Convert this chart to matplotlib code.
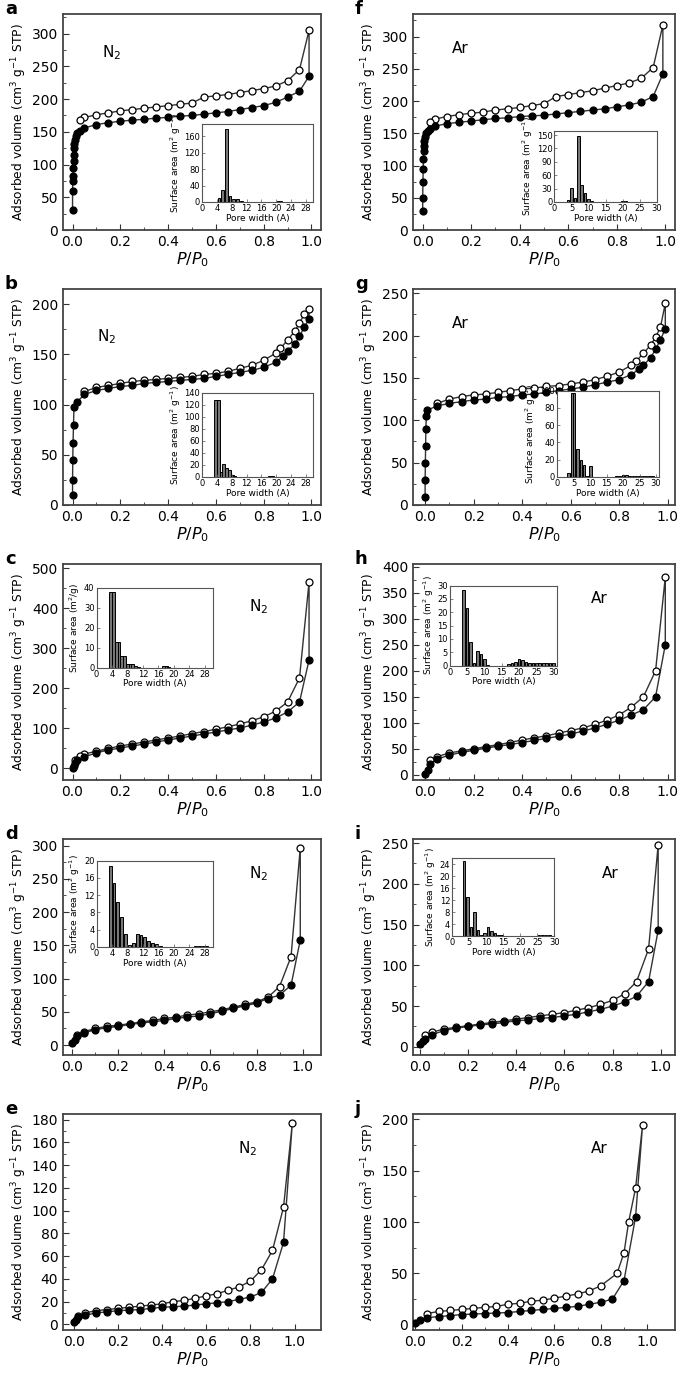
import numpy as np
import matplotlib.pyplot as plt

# ---------------- isotherm data (P/P0, adsorbed volume) ----------------
a_ads_x = [0.0, 0.0, 0.001, 0.002, 0.003, 0.004, 0.005, 0.006, 0.008, 0.01, 0.015, 0.02, 0.03, 0.05,
           0.1, 0.15, 0.2, 0.25, 0.3, 0.35, 0.4, 0.45, 0.5, 0.55, 0.6, 0.65, 0.7, 0.75, 0.8, 0.85, 0.9, 0.95, 0.99]
a_ads_y = [30, 60, 75, 82, 95, 105, 115, 125, 132, 138, 143, 148, 152, 156,
           161, 164, 166, 168, 169, 171, 172, 174, 175, 177, 179, 181, 184, 187, 190, 195, 203, 212, 235]
a_des_x = [0.99, 0.95, 0.9, 0.85, 0.8, 0.75, 0.7, 0.65, 0.6, 0.55, 0.5, 0.45, 0.4, 0.35, 0.3, 0.25,
           0.2, 0.15, 0.1, 0.05, 0.03]
a_des_y = [305, 245, 228, 220, 216, 213, 210, 207, 205, 203, 194, 192, 190, 188, 186, 184,
           182, 179, 176, 172, 168]

f_ads_x = [0.0, 0.0, 0.001, 0.002, 0.003, 0.004, 0.005, 0.007, 0.01, 0.015, 0.02, 0.03, 0.05,
           0.1, 0.15, 0.2, 0.25, 0.3, 0.35, 0.4, 0.45, 0.5, 0.55, 0.6, 0.65, 0.7, 0.75, 0.8, 0.85, 0.9, 0.95, 0.99]
f_ads_y = [30, 50, 75, 95, 110, 122, 130, 138, 145, 150, 153, 157, 161,
           165, 167, 169, 171, 173, 174, 176, 177, 178, 180, 182, 184, 186, 188, 191, 194, 198, 207, 242]
f_des_x = [0.99, 0.95, 0.9, 0.85, 0.8, 0.75, 0.7, 0.65, 0.6, 0.55, 0.5, 0.45, 0.4, 0.35, 0.3, 0.25,
           0.2, 0.15, 0.1, 0.05, 0.03]
f_des_y = [318, 252, 235, 228, 224, 220, 216, 213, 210, 207, 196, 193, 190, 188, 186, 183,
           181, 179, 176, 172, 168]

b_ads_x = [0.0, 0.0, 0.001, 0.002, 0.004, 0.006, 0.02, 0.05, 0.1, 0.15, 0.2, 0.25, 0.3, 0.35, 0.4,
           0.45, 0.5, 0.55, 0.6, 0.65, 0.7, 0.75, 0.8, 0.85, 0.88, 0.9, 0.93, 0.95, 0.97, 0.99]
b_ads_y = [10, 25, 45, 62, 80, 98, 103, 110, 114, 116, 118, 119, 121, 122, 123,
           124, 125, 126, 128, 130, 132, 134, 137, 142, 148, 153, 160, 168, 177, 185]
b_des_x = [0.99, 0.97, 0.95, 0.93, 0.9, 0.87, 0.85, 0.8, 0.75, 0.7, 0.65, 0.6, 0.55, 0.5, 0.45,
           0.4, 0.35, 0.3, 0.25, 0.2, 0.15, 0.1, 0.05]
b_des_y = [195, 190, 181, 173, 164, 156, 151, 144, 139, 136, 133, 131, 130, 128, 127,
           126, 125, 124, 123, 121, 119, 117, 113]

g_ads_x = [0.0, 0.0, 0.001, 0.002, 0.003, 0.005, 0.008, 0.05, 0.1, 0.15, 0.2, 0.25, 0.3, 0.35, 0.4,
           0.45, 0.5, 0.55, 0.6, 0.65, 0.7, 0.75, 0.8, 0.85, 0.88, 0.9, 0.93, 0.95, 0.97, 0.99]
g_ads_y = [10, 30, 50, 70, 90, 105, 112, 117, 120, 122, 124, 125, 127, 128, 130,
           131, 133, 135, 137, 139, 142, 145, 148, 154, 160, 165, 174, 184, 195, 208]
g_des_x = [0.99, 0.97, 0.95, 0.93, 0.9, 0.87, 0.85, 0.8, 0.75, 0.7, 0.65, 0.6, 0.55, 0.5, 0.45,
           0.4, 0.35, 0.3, 0.25, 0.2, 0.15, 0.1, 0.05]
g_des_y = [238, 210, 198, 189, 179, 170, 165, 157, 152, 148, 145, 143, 141, 140, 138,
           137, 135, 133, 131, 130, 128, 125, 120]

c_ads_x = [0.0, 0.005, 0.01, 0.02, 0.05, 0.1, 0.15, 0.2, 0.25, 0.3, 0.35, 0.4, 0.45, 0.5, 0.55, 0.6,
           0.65, 0.7, 0.75, 0.8, 0.85, 0.9, 0.95, 0.99]
c_ads_y = [0, 5, 12, 20, 28, 38, 45, 50, 55, 60, 65, 70, 75, 80, 85, 90,
           95, 100, 107, 115, 125, 140, 165, 270]
c_des_x = [0.99, 0.95, 0.9, 0.85, 0.8, 0.75, 0.7, 0.65, 0.6, 0.55, 0.5, 0.45, 0.4, 0.35, 0.3, 0.25,
           0.2, 0.15, 0.1, 0.05, 0.03, 0.01]
c_des_y = [465, 225, 165, 142, 128, 118, 110, 103, 97, 91, 86, 80, 75, 70, 65, 60,
           55, 49, 42, 35, 30, 20]

h_ads_x = [0.0, 0.01, 0.02, 0.05, 0.1, 0.15, 0.2, 0.25, 0.3, 0.35, 0.4, 0.45, 0.5, 0.55, 0.6, 0.65,
           0.7, 0.75, 0.8, 0.85, 0.9, 0.95, 0.99]
h_ads_y = [2, 10, 20, 30, 38, 43, 47, 51, 55, 58, 62, 66, 70, 74, 78, 84,
           90, 97, 105, 115, 125, 150, 250]
h_des_x = [0.99, 0.95, 0.9, 0.85, 0.8, 0.75, 0.7, 0.65, 0.6, 0.55, 0.5, 0.45, 0.4, 0.35, 0.3, 0.25,
           0.2, 0.15, 0.1, 0.05, 0.02]
h_des_y = [380, 200, 150, 130, 115, 105, 97, 90, 85, 80, 75, 71, 67, 62, 58, 54,
           50, 46, 42, 35, 28]

d_ads_x = [0.0, 0.01, 0.02, 0.05, 0.1, 0.15, 0.2, 0.25, 0.3, 0.35, 0.4, 0.45, 0.5, 0.55, 0.6, 0.65,
           0.7, 0.75, 0.8, 0.85, 0.9, 0.95, 0.99]
d_ads_y = [3, 8, 13, 18, 23, 26, 28, 31, 33, 35, 37, 40, 42, 44, 47, 51,
           55, 59, 63, 70, 75, 90, 158]
d_des_x = [0.99, 0.95, 0.9, 0.85, 0.8, 0.75, 0.7, 0.65, 0.6, 0.55, 0.5, 0.45, 0.4, 0.35, 0.3, 0.25,
           0.2, 0.15, 0.1, 0.05, 0.02]
d_des_y = [297, 133, 88, 72, 65, 61, 57, 53, 50, 47, 45, 42, 40, 37, 35, 32,
           30, 28, 25, 20, 15]

i_ads_x = [0.0, 0.01, 0.02, 0.05, 0.1, 0.15, 0.2, 0.25, 0.3, 0.35, 0.4, 0.45, 0.5, 0.55, 0.6, 0.65,
           0.7, 0.75, 0.8, 0.85, 0.9, 0.95, 0.99]
i_ads_y = [3, 7, 10, 15, 20, 23, 25, 27, 28, 30, 32, 33, 35, 36, 38, 40,
           43, 46, 50, 55, 62, 80, 143]
i_des_x = [0.99, 0.95, 0.9, 0.85, 0.8, 0.75, 0.7, 0.65, 0.6, 0.55, 0.5, 0.45, 0.4, 0.35, 0.3, 0.25,
           0.2, 0.15, 0.1, 0.05, 0.02]
i_des_y = [248, 120, 80, 65, 57, 52, 48, 45, 42, 40, 38, 36, 34, 32, 30, 28,
           26, 24, 22, 18, 14]

e_ads_x = [0.0, 0.01, 0.02, 0.05, 0.1, 0.15, 0.2, 0.25, 0.3, 0.35, 0.4, 0.45, 0.5, 0.55, 0.6, 0.65,
           0.7, 0.75, 0.8, 0.85, 0.9, 0.95]
e_ads_y = [2, 4, 6, 8, 10, 11, 12, 12.5, 13, 14, 15, 15.5, 16, 17, 18, 19,
           20, 22, 24, 28, 40, 72]
e_des_x = [0.99, 0.95, 0.9, 0.85, 0.8, 0.75, 0.7, 0.65, 0.6, 0.55, 0.5, 0.45, 0.4, 0.35, 0.3, 0.25,
           0.2, 0.15, 0.1, 0.05, 0.02]
e_des_y = [177, 103, 65, 48, 38, 33, 30, 27, 25, 23, 21, 20, 18, 17, 16, 15,
           14, 13, 12, 10, 7]

j_ads_x = [0.0, 0.02, 0.05, 0.1, 0.15, 0.2, 0.25, 0.3, 0.35, 0.4, 0.45, 0.5, 0.55, 0.6, 0.65,
           0.7, 0.75, 0.8, 0.85, 0.9, 0.95]
j_ads_y = [2, 5, 7, 8, 9, 10, 10.5, 11, 11.5, 12, 13, 14, 15, 16, 17,
           18, 20, 22, 25, 43, 105]
j_des_x = [0.98, 0.95, 0.92, 0.9, 0.87, 0.8, 0.75, 0.7, 0.65, 0.6, 0.55, 0.5, 0.45, 0.4, 0.35, 0.3,
           0.25, 0.2, 0.15, 0.1, 0.05]
j_des_y = [194, 133, 100, 70, 50, 38, 33, 30, 28, 26, 24, 23, 21, 20, 18, 17,
           16, 15, 14, 13, 11]

# ---------------- pore size distributions (pore width A, surface area) ----------------
a_pw = [4.5, 5.5, 6.5, 7.5, 8.5, 9.5, 10.5, 11.5, 20.5, 21.3]
a_sa = [10, 28, 178, 14, 6, 7, 3, 1, 2, 2]
f_pw = [4, 5, 6, 7, 8, 9, 10, 11, 12, 16, 20, 21, 22]
f_sa = [4, 32, 8, 148, 38, 21, 7, 2, 0.5, 0.5, 1, 1, 0.5]
b_pw = [3.6, 4.3, 5.1, 5.8, 6.6, 7.3, 8.1, 8.8, 18.2, 19]
b_sa = [128, 128, 8, 21, 14, 11, 4, 1, 2, 2]
g_pw = [3.5, 4.5, 5.2, 6.2, 7.2, 8.2, 9.2, 10.2, 18, 19, 20, 21, 22, 23, 24, 25, 26, 27, 28, 29]
g_sa = [4, 97, 97, 32, 20, 14, 1, 13, 1, 1.5, 2, 2, 1.5, 0.8, 0.5, 0.5, 0.5, 0.5, 0.5, 0.5]
c_pw = [3.7, 4.4, 5.1, 5.8, 6.5, 7.2, 8.0, 8.7, 9.4, 10.1, 10.8, 17.3, 18, 18.7]
c_sa = [38, 38, 13, 13, 6, 6, 2, 2, 2, 1, 0.5, 1, 1, 0.5]
h_pw = [4, 5, 6, 7, 8, 9, 10, 11, 17, 18, 19, 20, 21, 22, 23, 24, 25, 26, 27, 28, 29, 30]
h_sa = [28.5, 21.5, 9, 1, 5.5, 4.5, 2.5, 0.3, 0.5, 1, 1.5, 2.3, 2, 1.5, 0.8, 0.8, 0.8, 0.8, 0.8, 0.8, 0.8, 0.8]
d_pw = [3.5, 4.5, 5.5, 6.5, 7.5, 8.5, 9.5, 10.5, 11.5, 12.5, 13.5, 14.5, 15.5, 16.5, 25.5, 26.5, 27.5, 28.5]
d_sa = [18.8, 14.7, 10.5, 7, 3, 0.4, 1, 3, 2.7, 2.2, 1.5, 1, 0.6, 0.3, 0.2, 0.2, 0.2, 0.2]
i_pw = [3.5, 4.5, 5.5, 6.5, 7.5, 8.5, 9.5, 10.5, 11.5, 12.5, 13.5, 14.5, 25.5, 26.5, 27.5, 28.5]
i_sa = [25, 13, 3, 8, 2, 0.5, 1, 3.2, 1.6, 1, 0.5, 0.3, 0.3, 0.3, 0.3, 0.3]

panels = [
    # letter, gas, ads, des, ylim, ystep, xlim, gas pos, inset
    ('a', 'N$_2$', (a_ads_x, a_ads_y), (a_des_x, a_des_y), (0, 330), 50, (-0.04, 1.04), (0.15, 0.8),
     dict(pw=a_pw, sa=a_sa, rect=[0.54, 0.13, 0.43, 0.36], ylim=(0, 190), yt=40, xlim=(0, 30), xt=4,
          yl='Surface area (m$^2$ g$^{-1}$)')),
    ('f', 'Ar', (f_ads_x, f_ads_y), (f_des_x, f_des_y), (0, 335), 50, (-0.04, 1.04), (0.15, 0.82),
     dict(pw=f_pw, sa=f_sa, rect=[0.54, 0.13, 0.39, 0.33], ylim=(0, 160), yt=30, xlim=(0, 30), xt=5,
          yl='Surface area (m$^2$ g$^{-1}$)')),
    ('b', 'N$_2$', (b_ads_x, b_ads_y), (b_des_x, b_des_y), (0, 215), 50, (-0.04, 1.04), (0.13, 0.76),
     dict(pw=b_pw, sa=b_sa, rect=[0.54, 0.13, 0.43, 0.39], ylim=(0, 140), yt=20, xlim=(0, 30), xt=4,
          yl='Surface area (m$^2$ g$^{-1}$)')),
    ('g', 'Ar', (g_ads_x, g_ads_y), (g_des_x, g_des_y), (0, 255), 50, (-0.05, 1.03), (0.15, 0.82),
     dict(pw=g_pw, sa=g_sa, rect=[0.55, 0.13, 0.39, 0.40], ylim=(0, 100), yt=20, xlim=(0, 31), xt=5,
          yl='Surface area (m$^2$ g$^{-1}$)')),
    ('c', 'N$_2$', (c_ads_x, c_ads_y), (c_des_x, c_des_y), (-30, 510), 100, (-0.04, 1.04), (0.72, 0.78),
     dict(pw=c_pw, sa=c_sa, rect=[0.13, 0.52, 0.45, 0.37], ylim=(0, 40), yt=10, xlim=(0, 30), xt=4,
          yl='Surface area (m$^2$/g)')),
    ('h', 'Ar', (h_ads_x, h_ads_y), (h_des_x, h_des_y), (-10, 405), 50, (-0.05, 1.03), (0.68, 0.82),
     dict(pw=h_pw, sa=h_sa, rect=[0.14, 0.53, 0.41, 0.37], ylim=(0, 30), yt=5, xlim=(0, 31), xt=5,
          yl='Surface area (m$^2$ g$^{-1}$)')),
    ('d', 'N$_2$', (d_ads_x, d_ads_y), (d_des_x, d_des_y), (-15, 310), 50, (-0.04, 1.08), (0.72, 0.82),
     dict(pw=d_pw, sa=d_sa, rect=[0.13, 0.50, 0.45, 0.40], ylim=(0, 20), yt=4, xlim=(0, 30), xt=4,
          yl='Surface area (m$^2$ g$^{-1}$)')),
    ('i', 'Ar', (i_ads_x, i_ads_y), (i_des_x, i_des_y), (-10, 255), 50, (-0.03, 1.06), (0.72, 0.82),
     dict(pw=i_pw, sa=i_sa, rect=[0.15, 0.55, 0.39, 0.36], ylim=(0, 26), yt=4, xlim=(0, 30), xt=5,
          yl='Surface area (m$^2$ g$^{-1}$)')),
    ('e', 'N$_2$', (e_ads_x, e_ads_y), (e_des_x, e_des_y), (-5, 185), 20, (-0.05, 1.12), (0.68, 0.82), None),
    ('j', 'Ar', (j_ads_x, j_ads_y), (j_des_x, j_des_y), (-5, 205), 50, (-0.01, 1.12), (0.68, 0.82), None),
]

plt.rcParams['font.family'] = 'DejaVu Sans'
fig = plt.figure(figsize=(6.85, 13.83), dpi=100)
W, H = 685.0, 1383.0
row_h = 275.0
ax_h = 216.0
top0 = 14.0
lc = '#333333'

for k, (letter, gas, ads, des, ylim, ystep, xlim, gpos, ins) in enumerate(panels):
    row, col = k // 2, k % 2
    left_px = 63 if col == 0 else 413
    width_px = 258 if col == 0 else 262
    top_px = top0 + row_h * row
    ax = fig.add_axes([left_px / W, 1 - (top_px + ax_h) / H, width_px / W, ax_h / H])

    # loop line: adsorption up, desorption back down
    lx = list(ads[0]) + list(des[0])
    ly = list(ads[1]) + list(des[1])
    ax.plot(lx, ly, color=lc, lw=1.0, zorder=2)
    ax.plot(des[0], des[1], 'o', ms=5, mfc='white', mec='black', mew=0.9, zorder=3)
    ax.plot(ads[0], ads[1], 'o', ms=5, mfc='black', mec='black', mew=0.9, zorder=4)

    ax.set_xlim(*xlim)
    ax.set_ylim(*ylim)
    ax.set_xticks(np.arange(0, 1.01, 0.2))
    ax.set_xticklabels(['0.0', '0.2', '0.4', '0.6', '0.8', '1.0'])
    ax.set_yticks(np.arange(0, ylim[1] + 0.1, ystep))
    ax.set_xticks(np.arange(0.1, 1.01, 0.2), minor=True)
    ax.set_yticks(np.arange(ystep / 2, ylim[1], ystep), minor=True)
    ax.tick_params(direction='in', labelsize=10, length=4, width=0.8, color=lc)
    ax.tick_params(which='minor', direction='in', length=2.5, width=0.6, color=lc)
    for s in ax.spines.values():
        s.set_linewidth(1.3)
        s.set_color('#444444')
    ax.set_xlabel('$P/P_0$', fontsize=11.5, labelpad=1)
    ax.set_ylabel('Adsorbed volume (cm$^3$ g$^{-1}$ STP)', fontsize=8.8, labelpad=2)
    ax.text(gpos[0], gpos[1], gas, transform=ax.transAxes, fontsize=11)
    fig.text((left_px - 58) / W, 1 - (top_px - 5) / H, letter, fontsize=13, fontweight='bold',
             va='center', ha='left')

    if ins is not None:
        iax = ax.inset_axes(ins['rect'])
        iax.bar(ins['pw'], ins['sa'], width=0.75, color='#777777', edgecolor='black', linewidth=0.7)
        iax.set_xlim(*ins['xlim'])
        iax.set_ylim(*ins['ylim'])
        iax.set_xticks(np.arange(0, ins['xlim'][1] + 0.1, ins['xt']))
        iax.set_yticks(np.arange(0, ins['ylim'][1] + 0.1, ins['yt']))
        iax.tick_params(direction='in', labelsize=6, length=2, width=0.5, pad=1.5, color='#555555')
        for s in iax.spines.values():
            s.set_linewidth(0.8)
            s.set_color('#555555')
        iax.set_xlabel('Pore width (A)', fontsize=6.5, labelpad=0.5)
        iax.set_ylabel(ins['yl'], fontsize=6.5, labelpad=1)

fig.savefig('out.png', dpi=100)
